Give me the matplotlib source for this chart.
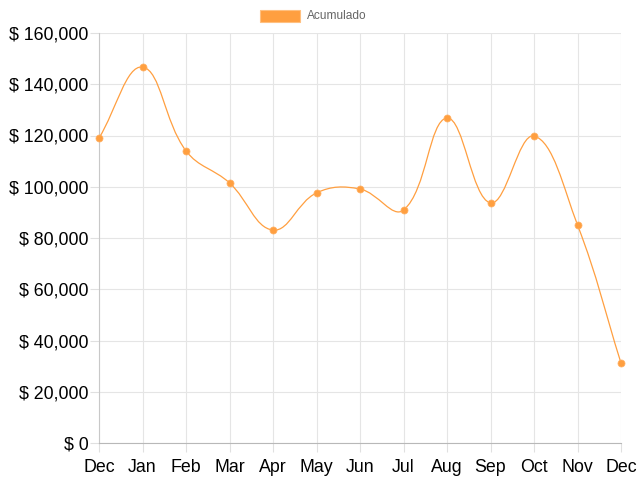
import numpy as np
import matplotlib
matplotlib.use("Agg")
import matplotlib.pyplot as plt
from matplotlib.path import Path
from matplotlib.patches import PathPatch, Rectangle

months = ["Dec", "Jan", "Feb", "Mar", "Apr", "May", "Jun",
          "Jul", "Aug", "Sep", "Oct", "Nov", "Dec"]
acumulado = [119000, 146700, 114000, 101500, 83100, 97600, 99100,
             90900, 126800, 93700, 119800, 85100, 31200]
y_ticks = [0, 20000, 40000, 60000, 80000, 100000, 120000, 140000, 160000]

ORANGE = "#ff9f40"
plt.rcParams["font.family"] = ["Liberation Sans", "DejaVu Sans"]

fig = plt.figure(figsize=(6.4, 4.8), dpi=100)
ax = fig.add_axes([99 / 640, 1 - 443 / 480, 522 / 640, 410 / 480])

x = np.arange(len(months))
ax.set_xlim(0, len(months) - 1)
ax.set_ylim(0, 160000)

#spline like chart.js (tension 0.4), distances in pixel space
pts = ax.transData.transform(np.column_stack([x, acumulado]))
tension = 0.4
verts = [pts[0]]
codes = [Path.MOVETO]
ctrl = []
for i in range(len(pts)):
    prev = pts[i - 1] if i > 0 else pts[i]
    nxt = pts[i + 1] if i < len(pts) - 1 else pts[i]
    d01 = np.hypot(*(pts[i] - prev))
    d12 = np.hypot(*(nxt - pts[i]))
    tot = d01 + d12
    s01 = d01 / tot if tot else 0
    s12 = d12 / tot if tot else 0
    c_prev = pts[i] - tension * s01 * (nxt - prev)
    c_next = pts[i] + tension * s12 * (nxt - prev)
    ctrl.append((c_prev, c_next))
for i in range(1, len(pts)):
    verts += [ctrl[i - 1][1], ctrl[i][0], pts[i]]
    codes += [Path.CURVE4] * 3
inv = ax.transData.inverted()
curve = Path(inv.transform(np.array(verts)), codes)
ax.add_patch(PathPatch(curve, facecolor="none", edgecolor=ORANGE, lw=0.9, zorder=3))
ax.scatter(x, acumulado, s=26, color=ORANGE, edgecolor="#ffb266", linewidth=0.5,
           zorder=4, clip_on=False)

ax.set_xticks(x)
ax.set_xticklabels(months)
ax.set_yticks(y_ticks)
ax.set_yticklabels([f"$ {v:,}" for v in y_ticks])
ax.grid(True, color="#e5e5e5", lw=0.8)
ax.set_axisbelow(True)
for side in ["top", "right"]:
    ax.spines[side].set_visible(False)
ax.spines["left"].set_color("#c8c8c8")
ax.spines["bottom"].set_color("#b8b8b8")
ax.tick_params(axis="both", length=6.5, width=0.8, color="#e0e0e0",
               labelsize=12.8, labelcolor="#000000")
ax.tick_params(axis="x", pad=5)
ax.tick_params(axis="y", pad=1)

#legend box like chart.js
fig.patches.append(Rectangle((260 / 640, 1 - 22 / 480), 40 / 640, 12 / 480,
                             transform=fig.transFigure, facecolor=ORANGE,
                             edgecolor="#ffc080", lw=0.8))
fig.text(307 / 640, 1 - 16 / 480, "Acumulado", fontsize=8.6, color="#666666", va="center")

fig.savefig("out.png", dpi=100)
